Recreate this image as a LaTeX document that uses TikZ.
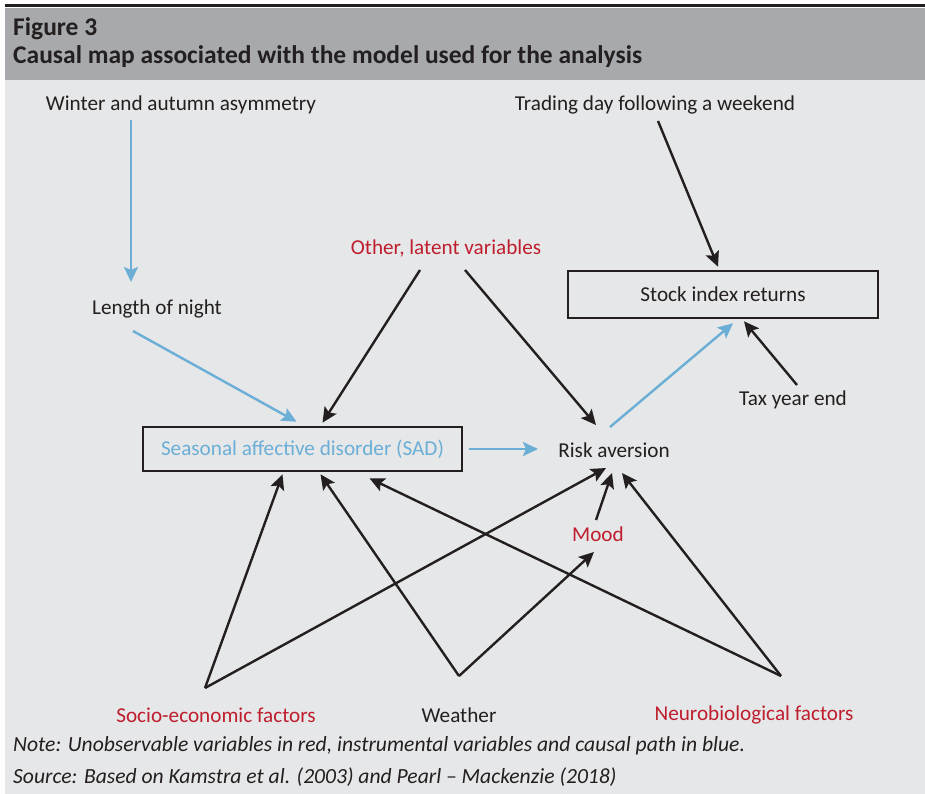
\documentclass[tikz,border=0pt]{standalone}
\usepackage{fontspec}
\setmainfont{Carlito}
\usetikzlibrary{arrows.meta}
\definecolor{headgray}{RGB}{167,169,172}
\definecolor{bodygray}{RGB}{230,231,232}
\definecolor{latentred}{RGB}{190,30,45}
\definecolor{pathblue}{RGB}{107,174,214}
\definecolor{ink}{RGB}{35,31,32}

\begin{document}
\begin{tikzpicture}[x=1pt,y=-1pt,
    var/.style={font=\fontsize{21.2}{24}\selectfont,text=ink,inner sep=0pt},
    latent/.style={var,text=latentred},
    boxed/.style={var,draw=ink,line width=2.6pt},
    caption/.style={anchor=west,font=\fontsize{25.5}{28}\selectfont\bfseries,text=ink,inner sep=0pt},
    remark/.style={anchor=west,font=\fontsize{21.6}{24}\selectfont\itshape,text=ink,inner sep=0pt},
    cause/.style={draw=ink,line width=2.4pt,-{Stealth[length=15pt,width=14pt,inset=3pt]}},
    bluepath/.style={cause,draw=pathblue}]
  \useasboundingbox (0,0) rectangle (925,794);
  % frame
  \fill[bodygray] (5,80) rectangle (925,794);
  \fill[headgray] (5,8) rectangle (925,80);
  \draw[ink,line width=3pt] (5,6) -- (925,6);
  \node[caption] (fignum) at (13,29) {Figure 3};
  \node[caption] (figtitle) at (13,57) {Causal map associated with the model used for the analysis};
  % variables
  \node[var] (winter) at (181,105) {Winter and autumn asymmetry};
  \node[var] (trading) at (655,105) {Trading day following a weekend};
  \node[latent] (other) at (446,248) {Other, latent variables};
  \node[boxed,minimum width=310pt,minimum height=47pt] (stock) at (723,294.5) {Stock index returns};
  \node[var] (night) at (157,309) {Length of night};
  \node[var] (tax) at (793,400) {Tax year end};
  \node[boxed,text=pathblue,minimum width=319pt,minimum height=44pt] (sad) at (302.5,449) {Seasonal affective disorder (SAD)};
  \node[var] (risk) at (614,450) {Risk aversion};
  \node[latent] (mood) at (598,534) {Mood};
  \node[latent] (socio) at (216,715) {Socio-economic factors};
  \node[var] (weather) at (459,715) {Weather};
  \node[latent] (neuro) at (754,715) {Neurobiological factors};
  \coordinate (socio-top) at ([xshift=-11pt,yshift=27pt]socio.center);
  \coordinate (weather-top) at ([yshift=39pt]weather.center);
  \coordinate (neuro-top) at ([xshift=27pt,yshift=39pt]neuro.center);
  % notes
  \node[remark] (note) at (13,746) {Note: Unobservable variables in red, instrumental variables and causal path in blue.};
  \node[remark] (source) at (13,777) {Source: Based on Kamstra et al. (2003) and Pearl -- Mackenzie (2018)};
  % instrumental path
  \draw[bluepath] ([xshift=-50pt,yshift=-15pt]winter.center) to ([xshift=-26pt,yshift=27pt]night.center);
  \draw[bluepath] ([xshift=-24pt,yshift=-22pt]night.center) to ([xshift=-6pt,yshift=4pt]sad.north);
  \draw[bluepath] ([xshift=6pt]sad.east) to ([xshift=-76pt,yshift=1pt]risk.center);
  \draw[bluepath] ([xshift=-4pt,yshift=23pt]risk.center) to ([xshift=10pt,yshift=-4pt]stock.south);
  % other causes
  \draw[cause] ([xshift=-26pt,yshift=-22pt]other.center) to ([xshift=20pt,yshift=3pt]sad.north);
  \draw[cause] ([xshift=19pt,yshift=-22pt]other.center) to ([xshift=-18pt,yshift=25pt]risk.center);
  \draw[cause] ([xshift=3pt,yshift=-16pt]trading.center) to ([xshift=-5pt,yshift=3pt]stock.north);
  \draw[cause] ([xshift=4pt,yshift=15pt]tax.center) to ([xshift=21pt,yshift=-2pt]stock.south);
  \draw[cause] (socio-top) to ([xshift=-20pt,yshift=-2pt]sad.south);
  \draw[cause] (socio-top) to ([xshift=-8pt,yshift=-18pt]risk.center);
  \draw[cause] (weather-top) to ([xshift=18pt,yshift=-2pt]sad.south);
  \draw[cause] (weather-top) to ([xshift=-4pt,yshift=-18pt]mood.center);
  \draw[cause] ([xshift=-2pt,yshift=14pt]mood.center) to ([xshift=-2pt,yshift=-23pt]risk.center);
  \draw[cause] (neuro-top) to ([xshift=67pt,yshift=-6pt]sad.south);
  \draw[cause] (neuro-top) to ([xshift=8pt,yshift=-23pt]risk.center);
\end{tikzpicture}
\end{document}
